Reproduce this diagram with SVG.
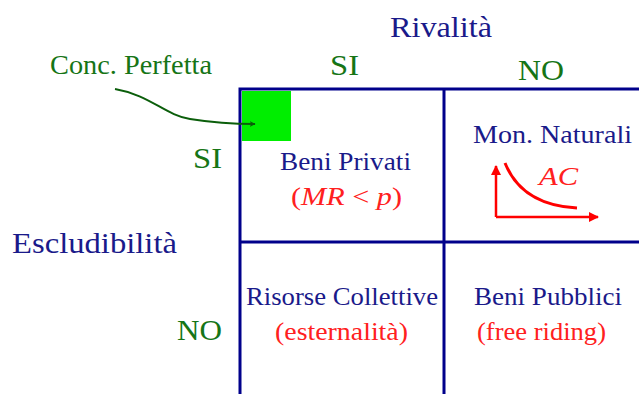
<svg xmlns="http://www.w3.org/2000/svg" width="639" height="394" viewBox="0 0 639 394">
<defs>
<style>
text{font-family:"Liberation Serif","DejaVu Serif",serif}
.big{font-size:30px}
.conc{font-size:28px}
.cell{font-size:25px}
.blue{fill:#1a1a8a}
.green{fill:#167516}
.red{fill:#ff2020}
.it{font-style:italic}
.grid{stroke:#00008b;stroke-width:3;fill:none}
</style>
<marker id="ag" viewBox="0 0 10 10" refX="9" refY="5" markerWidth="6" markerHeight="6" orient="auto" markerUnits="userSpaceOnUse">
<path d="M0,0 L10,5 L0,10 L3,5 Z" fill="#0b5e0b"/>
</marker>
<marker id="ar" viewBox="0 0 10 10" refX="9" refY="5" markerWidth="10" markerHeight="10" orient="auto" markerUnits="userSpaceOnUse">
<path d="M0,0 L10,5 L0,10 Z" fill="#ff0000"/>
</marker>
</defs>
<rect width="639" height="394" fill="#fff"/>
<g id="grid">
<path class="grid" d="M240,394 V89 H639 M444,89 V394 M240,242 H639"/>
</g>
<g id="perfect-competition">
<rect x="242" y="91" width="49" height="50" fill="#00ee00"/>
</g>
<g id="headers">
<text class="big blue" x="390" y="37" textLength="102" lengthAdjust="spacingAndGlyphs">Rivalità</text>
<text class="big green" x="330" y="75" textLength="29" lengthAdjust="spacingAndGlyphs">SI</text>
<text class="big green" x="518" y="80" textLength="46" lengthAdjust="spacingAndGlyphs">NO</text>
<text class="big blue" x="12" y="253" textLength="165" lengthAdjust="spacingAndGlyphs">Escludibilità</text>
<text class="big green" x="193" y="168" textLength="29" lengthAdjust="spacingAndGlyphs">SI</text>
<text class="big green" x="177" y="340" textLength="45" lengthAdjust="spacingAndGlyphs">NO</text>
<text class="conc green" x="50" y="74" textLength="162" lengthAdjust="spacingAndGlyphs">Conc. Perfetta</text>
</g>
<g id="beni-privati">
<text class="cell blue" x="280" y="170" textLength="131" lengthAdjust="spacingAndGlyphs">Beni Privati</text>
<text class="cell red" x="291" y="205" textLength="111" lengthAdjust="spacingAndGlyphs"><tspan>(</tspan><tspan class="it">MR</tspan><tspan> &lt; </tspan><tspan class="it">p</tspan><tspan>)</tspan></text>
</g>
<g id="monopoli-naturali">
<text class="cell blue" x="473" y="143" textLength="159" lengthAdjust="spacingAndGlyphs">Mon. Naturali</text>
<text class="cell red it" x="539" y="185" textLength="39" lengthAdjust="spacingAndGlyphs">AC</text>
<path d="M496,217 V166" stroke="#ff0000" stroke-width="2.5" fill="none" marker-end="url(#ar)"/>
<path d="M496,217 H598" stroke="#ff0000" stroke-width="2.5" fill="none" marker-end="url(#ar)"/>
<path d="M505,163 Q522,205 577,208" stroke="#ff0000" stroke-width="3" fill="none"/>
</g>
<g id="risorse-collettive">
<text class="cell blue" x="246" y="305" textLength="192" lengthAdjust="spacingAndGlyphs">Risorse Collettive</text>
<text class="cell red" x="275" y="340" textLength="133" lengthAdjust="spacingAndGlyphs">(esternalità)</text>
</g>
<g id="beni-pubblici">
<text class="cell blue" x="474" y="305" textLength="148" lengthAdjust="spacingAndGlyphs">Beni Pubblici</text>
<text class="cell red" x="477" y="340" textLength="129" lengthAdjust="spacingAndGlyphs">(free riding)</text>
</g>
<g id="connectors">
<path d="M115,89 C150,95 165,115 190,119 S230,124 255,124" stroke="#0b5e0b" stroke-width="2" fill="none" marker-end="url(#ag)"/>
</g>
</svg>
